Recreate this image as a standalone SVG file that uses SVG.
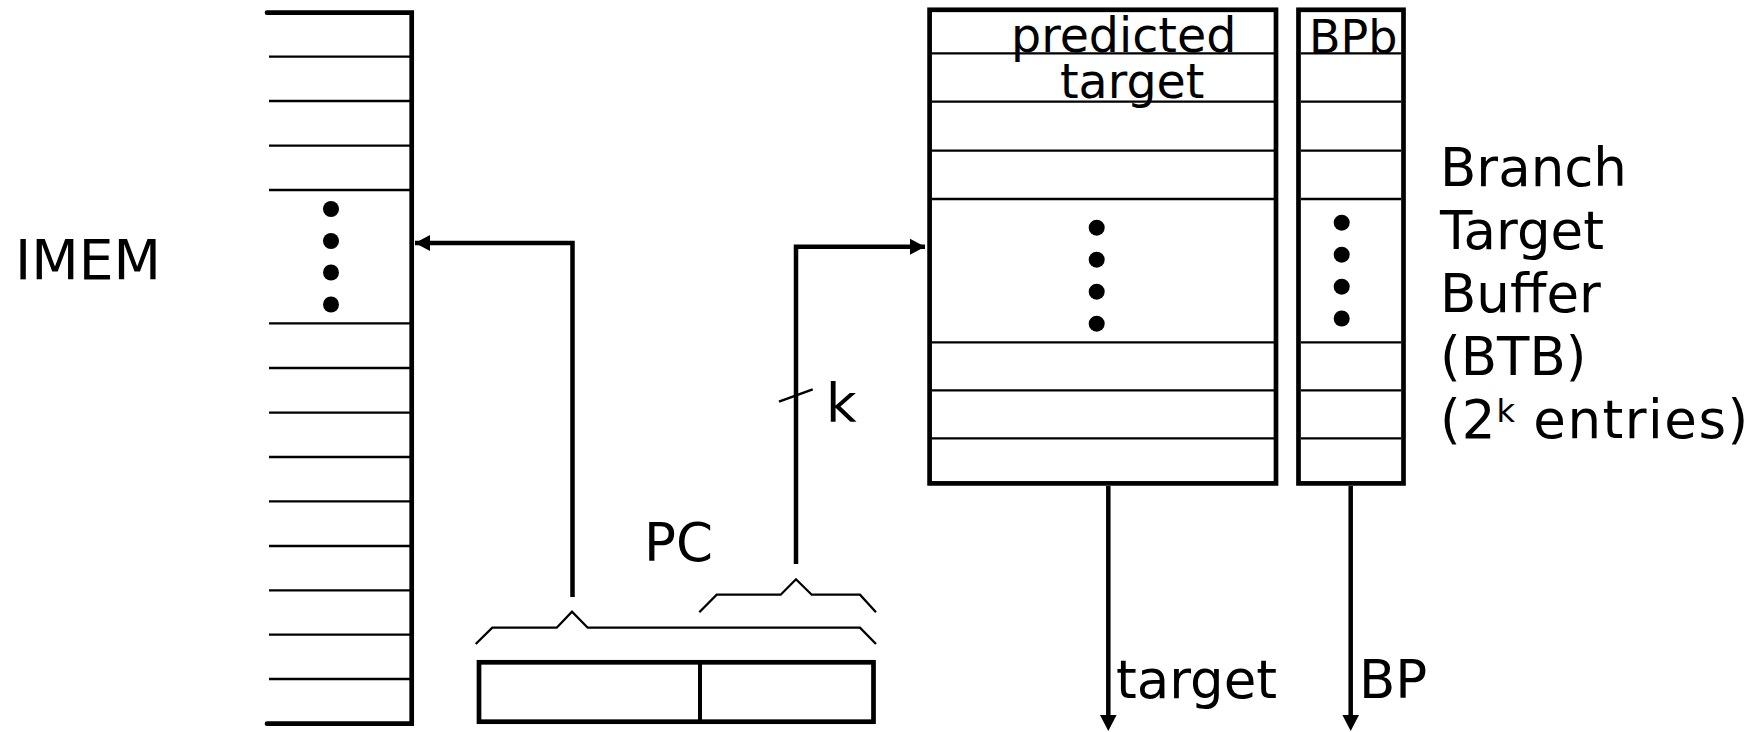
<svg xmlns="http://www.w3.org/2000/svg" width="1750" height="732" viewBox="0 0 1750 732">
<style>
.t{font-family:"DejaVu Sans","Verdana",sans-serif;fill:#000}
.thick{stroke:#000;stroke-width:4.7;fill:none}
.thin{stroke:#000;stroke-width:2.3;fill:none}
.wire{stroke:#000;stroke-width:4.5;fill:none}
.dot{fill:#000}
.head{fill:#000;stroke:none}
</style>
<defs>
<marker id="ah" markerUnits="userSpaceOnUse" markerWidth="16" markerHeight="16" refX="15" refY="8" orient="auto" overflow="visible">
<path d="M0,0 L15,8 L0,16 Z" fill="#000"/>
</marker>
</defs>
<rect width="1750" height="732" fill="#fff"/>

<g id="imem">
<path class="thin" d="M269,56.7H411M269,101H411M269,145.7H411M269,190H411M269,323.3H411M269,368H411M269,412.7H411M269,457H411M269,501.3H411M269,546H411M269,590.3H411M269,634.7H411M269,679H411"/>
<path class="thick" stroke-linecap="round" d="M267,12.7H411.7V723.7H267"/>
<circle class="dot" cx="331" cy="209" r="8"/>
<circle class="dot" cx="331" cy="241" r="8"/>
<circle class="dot" cx="331" cy="272.5" r="8"/>
<circle class="dot" cx="331" cy="304.5" r="8"/>
<text class="t" x="15" y="279" font-size="55">IMEM</text>
</g>

<g id="pc">
<rect class="thick" x="479" y="662.3" width="394.5" height="59.4"/>
<line x1="700" y1="662" x2="700" y2="722" stroke="#000" stroke-width="4"/>
<path class="thin" d="M475.7,644L492.3,627.7H556.7L572,611.7L587.7,627.7H860L876,644"/>
<path class="thin" d="M699.3,612.3L716.7,594.7H780.7L796,579.3L811.7,594.7H860L876,612.3"/>
<text class="t" x="644" y="561" font-size="53">PC</text>
</g>

<g id="btb">
<rect class="thick" x="929.6" y="9.8" width="346.4" height="473.6"/>
<path class="thin" d="M932,53.3H1274M932,101.7H1274M932,150.7H1274M932,199H1274M932,342.3H1274M932,390.3H1274M932,438.3H1274"/>
<circle class="dot" cx="1096.7" cy="227.7" r="8"/>
<circle class="dot" cx="1096.7" cy="259.7" r="8"/>
<circle class="dot" cx="1096.7" cy="291.7" r="8"/>
<circle class="dot" cx="1096.7" cy="323.7" r="8"/>
<text class="t" x="1011" y="51.5" font-size="47.5">predicted</text>
<text class="t" x="1060" y="98.3" font-size="47.5">target</text>
</g>

<g id="bpb">
<rect class="thick" x="1298.5" y="9.8" width="105" height="473.6"/>
<path class="thin" d="M1301,53.3H1401M1301,101.7H1401M1301,150.7H1401M1301,199H1401M1301,342.3H1401M1301,390.3H1401M1301,438.3H1401"/>
<circle class="dot" cx="1341.7" cy="222.7" r="8"/>
<circle class="dot" cx="1341.7" cy="254.7" r="8"/>
<circle class="dot" cx="1341.7" cy="286.7" r="8"/>
<circle class="dot" cx="1341.7" cy="318.5" r="8"/>
<text class="t" x="1309" y="53.3" font-size="46">BPb</text>
</g>

<g id="btb-label">
<text class="t" font-size="53">
<tspan x="1440" y="186">Branch</tspan>
<tspan x="1440" y="249">Target</tspan>
<tspan x="1440" y="312">Buffer</tspan>
<tspan x="1440" y="375">(BTB)</tspan>
<tspan x="1440" y="438" letter-spacing="1">(2</tspan><tspan font-size="32" dy="-16">k</tspan><tspan dy="16" letter-spacing="1.5"> entries)</tspan>
</text>
</g>

<g id="connectors">
<path class="wire" stroke-linejoin="miter" d="M572.5,597V243H415" marker-end="url(#ah)"/>
<path class="wire" d="M796,564V246.7H925" marker-end="url(#ah)"/>
<line x1="779" y1="401.7" x2="812.7" y2="389.3" stroke="#000" stroke-width="2.5"/>
<text class="t" x="826" y="421.7" font-size="53">k</text>
<path class="wire" d="M1108.3,486V718"/>
<polygon class="head" points="1100,715 1116.6,715 1108.3,731"/>
<path class="wire" d="M1350.7,486V718"/>
<polygon class="head" points="1342.4,715 1359,715 1350.7,731"/>
<text class="t" x="1116" y="698.3" font-size="53">target</text>
<text class="t" x="1359" y="698.3" font-size="53">BP</text>
</g>
</svg>
